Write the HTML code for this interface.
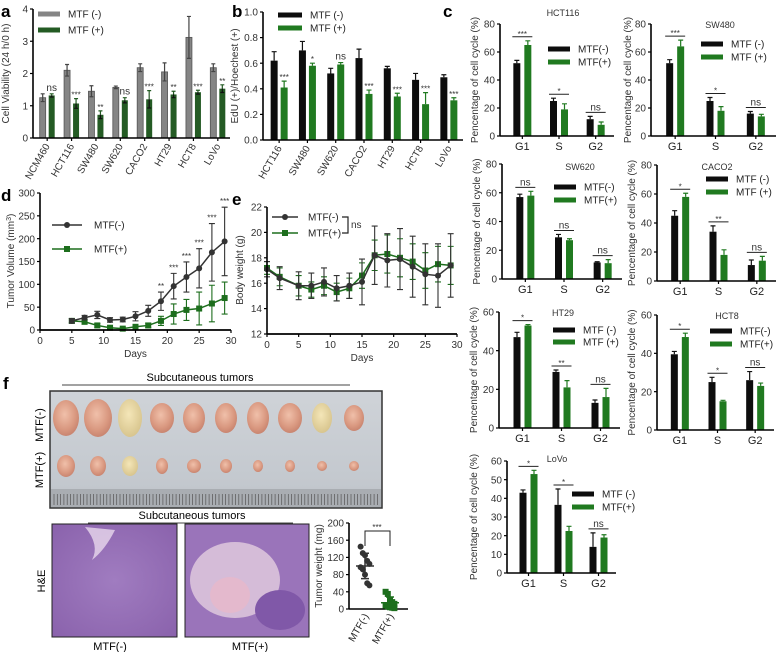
<!DOCTYPE html>
<html><head><meta charset="utf-8"><style>
html,body{margin:0;padding:0;background:#fff;}
svg{display:block;font-family:"Liberation Sans",Arial,sans-serif;}
</style></head><body>
<svg id="fig" width="778" height="652" viewBox="0 0 778 652" xmlns="http://www.w3.org/2000/svg">
<defs>
<linearGradient id="photoBg" x1="0" y1="0" x2="0" y2="1"><stop offset="0" stop-color="#cfd3d8"/><stop offset="0.8" stop-color="#c3c8ce"/><stop offset="1" stop-color="#b9bdc2"/></linearGradient>
<radialGradient id="tumorPink" cx="0.45" cy="0.4" r="0.6"><stop offset="0" stop-color="#f0c0aa"/><stop offset="0.7" stop-color="#d99880"/><stop offset="1" stop-color="#c98570"/></radialGradient>
<radialGradient id="tumorYellow" cx="0.45" cy="0.4" r="0.6"><stop offset="0" stop-color="#f4e6b8"/><stop offset="1" stop-color="#d8c58e"/></radialGradient>
<radialGradient id="heA" cx="0.5" cy="0.5" r="0.7"><stop offset="0" stop-color="#a07cc0"/><stop offset="1" stop-color="#8a62ac"/></radialGradient>
</defs>
<g font-weight="bold" font-size="17">
<text x="1" y="17">a</text>
<text x="232" y="17">b</text>
<text x="443" y="17">c</text>
<text x="1" y="201">d</text>
<text x="232" y="205">e</text>
<text x="3" y="389">f</text>
</g>
<g id="photo"></g>
<g font-size="11">
<text x="200" y="381" text-anchor="middle">Subcutaneous tumors</text>
<line x1="62" y1="385" x2="350" y2="385" stroke="#444" stroke-width="1"/>
<text transform="translate(43,425) rotate(-90)" text-anchor="middle">MTF(-)</text>
<text transform="translate(43,470) rotate(-90)" text-anchor="middle">MTF(+)</text>
<text x="192" y="519" text-anchor="middle">Subcutaneous tumors</text>
<line x1="88" y1="523" x2="293" y2="523" stroke="#444" stroke-width="1"/>
<text transform="translate(45,581) rotate(-90)" text-anchor="middle">H&amp;E</text>
<text x="110" y="650" text-anchor="middle">MTF(-)</text>
<text x="250" y="650" text-anchor="middle">MTF(+)</text>
</g>
<g id="he"></g>
</svg>
<script>
// ---------- Panel a data ----------
const aCats=["NCM460","HCT116","SW480","SW620","CACO2","HT29","HCT8","LoVo"];
const aNeg=[1.25,2.1,1.45,1.57,2.18,2.05,3.12,2.18];
const aNegErr=[0.12,0.18,0.17,0.04,0.12,0.28,0.65,0.12];
const aPos=[1.32,1.07,0.72,1.17,1.2,1.35,1.42,1.53];
const aPosErr=[0.05,0.15,0.12,0.08,0.27,0.1,0.06,0.12];
const aSig=["ns","***","**","ns","***","**","***","**"];
const aTicks=[0,1,2,3,4];
// ---------- Panel b data ----------
const bCats=["HCT116","SW480","SW620","CACO2","HT29","HCT8","LoVo"];
const bNeg=[0.62,0.70,0.52,0.64,0.56,0.47,0.49];
const bNegErr=[0.07,0.07,0.04,0.07,0.015,0.05,0.02];
const bPos=[0.41,0.58,0.59,0.36,0.34,0.28,0.31];
const bPosErr=[0.05,0.02,0.015,0.03,0.025,0.09,0.02];
const bSig=["***","*","ns","***","***","***","***"];
const bTicks=[0,0.2,0.4,0.6,0.8,1.0];
// ---------- Panel c data ----------
const phases=["G1","S","G2"];
const hct116Neg=[52,25,12], hct116NegErr=[2,2,2], hct116Pos=[65,19,8], hct116PosErr=[3,4,2], hct116Sig=["***","*","ns"];
const sw480Neg=[52,25,16], sw480NegErr=[2.5,2.5,1.5], sw480Pos=[64,18,14], sw480PosErr=[4.5,3,1.5], sw480Sig=["***","*","ns"];
const sw620Neg=[57,29,11.5], sw620NegErr=[2,2,0.5], sw620Pos=[58,27,11], sw620PosErr=[3,1,2.5], sw620Sig=["ns","ns","ns"];
const caco2Neg=[45,34,11], caco2NegErr=[3.5,4,3.5], caco2Pos=[58,18,14], caco2PosErr=[2.5,3.5,3], caco2Sig=["*","**","ns"];
const ht29Neg=[47,29,13], ht29NegErr=[2.5,1,1.5], ht29Pos=[53,21,16], ht29PosErr=[0.5,3.5,4.5], ht29Sig=["*","**","ns"];
const hct8Neg=[39.5,25,26], hct8NegErr=[1.5,2.5,4.5], hct8Pos=[48.5,15,23], hct8PosErr=[2,0.5,1.5], hct8Sig=["*","*","ns"];
const lovoNeg=[43,36.5,14], lovoNegErr=[1.5,8.5,7.5], lovoPos=[53,22.5,19], lovoPosErr=[2,2.5,1.5], lovoSig=["*","*","ns"];
const cTicks80=[0,20,40,60,80], cTicks60=[0,20,40,60], cTicksLovo=[0,10,20,30,40,50,60];
// ---------- Panel d data ----------
const dDays=[5,7,9,11,13,15,17,19,21,23,25,27,29];
const dNeg=[20,27,33,22,23,30,42,63,96,116,135,170,194];
const dNegErr=[5,5,8,5,5,10,12,20,28,33,43,63,75];
const dPos=[20,18,10,5,3,7,10,20,35,44,47,58,70];
const dPosErr=[4,5,4,3,2,4,5,10,22,23,36,40,35];
const dSig=["","","","","","","","**","***","***","***","***","***"];
const dXTicks=[0,5,10,15,20,25,30];
const dYTicks=[0,50,100,150,200,250,300];
// ---------- Panel e data ----------
const eDays=[0,2,5,7,9,11,13,15,17,19,21,23,25,27,29];
const eNeg=[17.1,16.4,15.8,15.8,16.1,15.6,15.8,16.1,18.2,17.8,17.9,17.3,16.7,16.6,17.4];
const eNegErr=[0.6,0.9,1.1,1.0,1.1,1.0,1.0,1.8,2.3,2.1,2.4,2.4,2.4,2.5,2.5];
const ePos=[17.2,16.5,15.8,15.5,15.8,15.3,15.6,16.6,18.2,18.3,18.0,17.7,17.0,17.5,17.4];
const ePosErr=[0.5,0.7,0.8,0.6,0.7,0.7,0.8,1.0,1.2,1.5,1.5,1.4,1.4,1.4,1.5];
const eXTicks=[0,5,10,15,20,25,30];
const eYTicks=[12,14,16,18,20,22];
// ---------- Panel f data ----------
const fNeg=[145,130,125,112,105,97,92,80,60,55];
const fPos=[40,35,20,16,12,8,6,4,3,2];
const fTicks=[0,40,80,120,160,200];
const fGroups=["MTF(-)","MTF(+)"];

const NS='http://www.w3.org/2000/svg';
const svg=document.getElementById('fig');
function mk(tag,attrs,parent){const e=document.createElementNS(NS,tag);for(const k in attrs)e.setAttribute(k,attrs[k]);(parent||svg).appendChild(e);return e;}
function tx(parent,x,y,s,attrs){const e=mk('text',Object.assign({x:x,y:y},attrs||{}),parent);e.textContent=s;return e;}
function grp(name){const g=mk('g',{});


return g;}

function yAxis(g,ax,yf,ticks,fs,fmt){
  const top=yf(ticks[ticks.length-1]),bot=yf(ticks[0]);
  const l=mk('line',{x1:ax,y1:top,x2:ax,y2:bot,stroke:'#000','stroke-width':1.6},g);
  
  
  ticks.forEach(t=>{
    const tk=mk('line',{x1:ax-3,y1:yf(t),x2:ax,y2:yf(t),stroke:'#000','stroke-width':1.2},g);
    
    
    const lb=tx(g,ax-5,yf(t)+fs*0.36,fmt?fmt(t):String(t),{'font-size':fs,'text-anchor':'end',fill:'#333'});
    
    
  });
}
function yTitle(g,x,y,s,fs){
  const t=tx(g,0,0,s,{transform:'translate('+x+','+y+') rotate(-90)','text-anchor':'middle','font-size':fs,fill:'#333'});
  
  
}
function errBar(g,x,yv,ye,w,col){
  const l=mk('path',{d:'M'+x+','+yv+'V'+ye+'M'+(x-w)+','+ye+'H'+(x+w),stroke:col,'stroke-width':1.2,fill:'none'},g);
  
  
}
function legendBar(g,x,y,col,label,fs,w,h){
  const r=mk('rect',{x:x,y:y-h/2,width:w,height:h,fill:col},g);
  
  
  const t=tx(g,x+w+8,y+fs*0.36,label,{'font-size':fs,fill:'#222'});
  
  
}

function barChart(name,o,cats,neg,negErr,pos,posErr,sig){
  const g=grp(name);
  const vmax=o.ticks[o.ticks.length-1], vmin=o.ticks[0];
  const yf=v=>o.yb-(v-vmin)/(vmax-vmin)*(o.yb-o.yt);
  const gw=(o.xEnd-o.ax-o.pad)/cats.length;
  const cx=i=>o.ax+o.pad+gw*(i+0.5);
  cats.forEach((c,i)=>{
    const xn=cx(i)-o.gap/2-o.bw, xp=cx(i)+o.gap/2;
    const rn=mk('rect',{x:xn,y:yf(neg[i]),width:o.bw,height:yf(vmin)-yf(neg[i]),fill:o.nc,stroke:o.ns||'none','stroke-width':0.8},g);
    
    
    errBar(g,xn+o.bw/2,yf(neg[i]),yf(neg[i]+negErr[i]),o.bw/2-1,o.ec||'#111');
    if(o.errDown) errBar(g,xn+o.bw/2,yf(neg[i]),yf(neg[i]-negErr[i]),o.bw/2-1,o.ec||'#111');
    const rp=mk('rect',{x:xp,y:yf(pos[i]),width:o.bw,height:yf(vmin)-yf(pos[i]),fill:o.pc},g);
    
    
    errBar(g,xp+o.bw/2,yf(pos[i]),yf(pos[i]+posErr[i]),o.bw/2-1,o.pc);
    if(o.errDown) errBar(g,xp+o.bw/2,yf(pos[i]),yf(pos[i]-posErr[i]),o.bw/2-1,'#111');
    if(o.sigLine){
      const top=Math.min(yf(neg[i]+negErr[i]),yf(pos[i]+posErr[i]))-4;
      const sl=mk('line',{x1:xn-1,y1:top,x2:xp+o.bw+1,y2:top,stroke:'#222','stroke-width':1},g);
      
      
      const st=tx(g,cx(i),top-(sig[i]==='ns'?2:0),sig[i],{'font-size':sig[i]==='ns'?10:8,'text-anchor':'middle',fill:'#333'});
      
      
    } else {
      const st=tx(g,xp+o.bw/2,yf(pos[i]+posErr[i])-(sig[i]==='ns'?3:1),sig[i],{'font-size':sig[i]==='ns'?10:8,'text-anchor':'middle',fill:'#333'});
      
      
    }
    if(o.rot){
      const lb=tx(g,0,0,c,{transform:'translate('+(cx(i)+3)+','+(o.yb+8)+') rotate(-60)','text-anchor':'end','font-size':o.fs,fill:'#333'});
      
      
    } else {
      const lb=tx(g,cx(i),o.yb+14,c,{'text-anchor':'middle','font-size':o.fs+1,fill:'#222'});
      
      
    }
  });
  const xa=mk('line',{x1:o.ax,y1:o.yb,x2:o.xEnd,y2:o.yb,stroke:'#000','stroke-width':1.6},g);
  
  
  cats.forEach((c,i)=>{
    const t=mk('line',{x1:cx(i),y1:o.yb,x2:cx(i),y2:o.yb+3,stroke:'#000','stroke-width':1.2},g);
    
    
  });
  yAxis(g,o.ax,yf,o.ticks,o.fs,o.fmt);
  yTitle(g,o.titleX,(o.yt+o.yb)/2,o.ytitle,o.tfs||10);
  if(o.title){const t=tx(g,o.titleCx,o.titleY,o.title,{'font-size':9,'text-anchor':'middle',fill:'#333'});
    
    }
  legendBar(g,o.lx,o.ly,o.nc,o.l1,o.lfs||10,o.lw||20,o.lh||5);
  legendBar(g,o.lx,o.ly+o.ldy,o.pc,o.l2,o.lfs||10,o.lw||20,o.lh||5);
  return g;
}

// Panel a
barChart('panel-a-cell-viability',{ax:33,yt:9,yb:138,xEnd:230,pad:2,ticks:aTicks,bw:6,gap:3,nc:'#858585',ns:'#555',pc:'#245b24',ec:'#444',errDown:true,
 rot:true,fs:10,titleX:9,ytitle:'Cell Viability (24 h/0 h)',lx:38,ly:14,ldy:16,l1:'MTF (-)',l2:'MTF (+)',lw:22,lh:5,lfs:10},aCats,aNeg,aNegErr,aPos,aPosErr,aSig);
// Panel b
barChart('panel-b-edu',{ax:263,yt:12,yb:140,xEnd:463,pad:2,ticks:bTicks,bw:7,gap:3,nc:'#0d0d0d',pc:'#207a20',
 rot:true,fs:10,fmt:t=>t.toFixed(1),titleX:238,ytitle:'EdU (+)/Hoechest (+)',lx:278,ly:15,ldy:13,l1:'MTF (-)',l2:'MTF (+)',lw:24,lh:5,lfs:10},bCats,bNeg,bNegErr,bPos,bPosErr,bSig);
// Panel c
const cBase={pad:4,bw:7,gap:4,nc:'#0d0d0d',pc:'#207a20',sigLine:true,fs:10,tfs:10,lw:22,lh:5,lfs:10,ldy:13};
barChart('panel-c-hct116',Object.assign({},cBase,{ax:500,yt:24,yb:136,xEnd:614,ticks:cTicks80,titleX:478,ytitle:'Pencentage of cell cycle (%)',title:'HCT116',titleCx:563,titleY:16,lx:548,ly:49,l1:'MTF(-)',l2:'MTF(+)'}),phases,hct116Neg,hct116NegErr,hct116Pos,hct116PosErr,hct116Sig);
barChart('panel-c-sw480',Object.assign({},cBase,{ax:651,yt:24,yb:136,xEnd:776,ticks:cTicks80,titleX:631,ytitle:'Pencentage of cell cycle (%)',title:'SW480',titleCx:720,titleY:28,lx:701,ly:44,l1:'MTF (-)',l2:'MTF (+)'}),phases,sw480Neg,sw480NegErr,sw480Pos,sw480PosErr,sw480Sig);
barChart('panel-c-sw620',Object.assign({},cBase,{ax:502,yt:164,yb:279,xEnd:622,ticks:cTicks80,titleX:480,ytitle:'Pencentage of cell cycle (%)',title:'SW620',titleCx:580,titleY:170,lx:554,ly:187,l1:'MTF(-)',l2:'MTF(+)'}),phases,sw620Neg,sw620NegErr,sw620Pos,sw620PosErr,sw620Sig);
barChart('panel-c-caco2',Object.assign({},cBase,{ax:657,yt:165,yb:281,xEnd:776,ticks:cTicks80,titleX:635,ytitle:'Pencentage of cell cycle (%)',title:'CACO2',titleCx:717,titleY:170,lx:706,ly:179,l1:'MTF (-)',l2:'MTF (+)'}),phases,caco2Neg,caco2NegErr,caco2Pos,caco2PosErr,caco2Sig);
barChart('panel-c-ht29',Object.assign({},cBase,{ax:499,yt:312,yb:428,xEnd:620,ticks:cTicks60,titleX:477,ytitle:'Pencentage of cell cycle (%)',title:'HT29',titleCx:563,titleY:316,lx:553,ly:330,ldy:12,l1:'MTF (-)',l2:'MTF (+)'}),phases,ht29Neg,ht29NegErr,ht29Pos,ht29PosErr,ht29Sig);
barChart('panel-c-hct8',Object.assign({},cBase,{ax:657,yt:315,yb:430,xEnd:774,ticks:cTicks60,titleX:635,ytitle:'Pencentage of cell cycle (%)',title:'HCT8',titleCx:727,titleY:319,lx:710,ly:331,l1:'MTF(-)',l2:'MTF(+)'}),phases,hct8Neg,hct8NegErr,hct8Pos,hct8PosErr,hct8Sig);
barChart('panel-c-lovo',Object.assign({},cBase,{ax:507,yt:461,yb:573,xEnd:616,ticks:cTicksLovo,titleX:477,ytitle:'Pencentage of cell cycle (%)',title:'LoVo',titleCx:557,titleY:462,lx:572,ly:494,l1:'MTF (-)',l2:'MTF(+)'}),phases,lovoNeg,lovoNegErr,lovoPos,lovoPosErr,lovoSig);

// Line charts
function lineChart(name,o,days,neg,negErr,pos,posErr,sig){
  const g=grp(name);
  const xmin=o.xt[0],xmax=o.xt[o.xt.length-1],ymin=o.yt[0],ymax=o.yt[o.yt.length-1];
  const xf=v=>o.x0+(v-xmin)/(xmax-xmin)*(o.x1-o.x0);
  const yf=v=>o.yb-(v-ymin)/(ymax-ymin)*(o.yb-o.ytop);
  const series=[[neg,negErr,'#333','circle'],[pos,posErr,'#1d6e1d','square']];
  series.slice().reverse().forEach(([vals,err,col,sh])=>{
    vals.forEach((v,i)=>{
      const lo=Math.max(ymin,v-err[i]);
      const e=mk('path',{d:'M'+xf(days[i])+','+yf(lo)+'V'+yf(v+err[i])+'M'+(xf(days[i])-3)+','+yf(v+err[i])+'h6M'+(xf(days[i])-3)+','+yf(lo)+'h6',stroke:col,'stroke-width':1.1,fill:'none'},g);
      
      
    });
    const p=mk('polyline',{points:vals.map((v,i)=>xf(days[i])+','+yf(v)).join(' '),fill:'none',stroke:col,'stroke-width':1.5},g);
    
    
    vals.forEach((v,i)=>{
      let m;
      if(sh==='circle') m=mk('circle',{cx:xf(days[i]),cy:yf(v),r:3,fill:col},g);
      else m=mk('rect',{x:xf(days[i])-3,y:yf(v)-3,width:6,height:6,fill:col},g);
      
      
    });
  });
  if(sig){sig.forEach((s,i)=>{if(!s)return;
    const t=tx(g,xf(days[i]),yf(neg[i]+negErr[i])-3,s,{'font-size':8,'text-anchor':'middle',fill:'#333'});
    
    });}
  const xa=mk('line',{x1:o.x0,y1:o.yb,x2:o.x1,y2:o.yb,stroke:'#000','stroke-width':1.8},g);
  
  
  o.xt.forEach(t=>{
    const k=mk('line',{x1:xf(t),y1:o.yb,x2:xf(t),y2:o.yb+3,stroke:'#000','stroke-width':1.2},g);
    
    
    const l=tx(g,xf(t),o.yb+14,String(t),{'font-size':10,'text-anchor':'middle',fill:'#333'});
    
    
  });
  const xt=tx(g,(o.x0+o.x1)/2,o.yb+27,'Days',{'font-size':10,'text-anchor':'middle',fill:'#333'});
  
  
  yAxis(g,o.x0,yf,o.yt,10);
  return g;
}
const gd=lineChart('panel-d-tumor-volume',{x0:40,x1:231,ytop:193,yb:330,xt:dXTicks,yt:dYTicks},dDays,dNeg,dNegErr,dPos,dPosErr,dSig);
const dTitle=tx(gd,0,0,'Tumor Volume (mm',{transform:'translate(14,261) rotate(-90)','text-anchor':'middle','font-size':10,fill:'#333'});


const dSup=mk('tspan',{dy:-3,'font-size':7},dTitle);dSup.textContent='3';
const dClose=mk('tspan',{dy:3},dTitle);dClose.textContent=')';
const ge=lineChart('panel-e-body-weight',{x0:267,x1:457,ytop:207,yb:334,xt:eXTicks,yt:eYTicks},eDays,eNeg,eNegErr,ePos,ePosErr,null);
yTitle(ge,243,270,'Body weight (g)',10);

// line legends
function lineLegend(g,x,y,col,sq,label,len,tgap){
  const l=mk('line',{x1:x,y1:y,x2:x+len,y2:y,stroke:col,'stroke-width':1.5},g);
  
  
  let m;
  if(sq) m=mk('rect',{x:x+len/2-3,y:y-3,width:6,height:6,fill:col},g);
  else m=mk('circle',{cx:x+len/2,cy:y,r:3,fill:col},g);
  
  
  const t=tx(g,x+len+tgap,y+3.6,label,{'font-size':10,fill:'#222'});
  
  
}
const dLeg=grp('panel-d-legend');
lineLegend(dLeg,52,225,'#333',false,'MTF(-)',30,12);
lineLegend(dLeg,52,249,'#1d6e1d',true,'MTF(+)',30,12);
const eLeg=grp('panel-e-legend');
lineLegend(eLeg,272,217,'#333',false,'MTF(-)',26,10);
lineLegend(eLeg,272,233,'#1d6e1d',true,'MTF(+)',26,10);
const br=mk('path',{d:'M342,217H348V233H342',stroke:'#222',fill:'none','stroke-width':1.2},eLeg);


const brt=tx(eLeg,351,228,'ns',{'font-size':10,fill:'#333'});



// Photo
const ph=document.getElementById('photo');
const bgR=mk('rect',{x:50,y:391,width:332,height:117,fill:'url(#photoBg)',stroke:'#333','stroke-width':1.5},ph);


const rul=mk('rect',{x:51,y:489,width:330,height:18,fill:'#a9adb2'},ph);


let rd='';for(let x=54;x<380;x+=3.3){rd+='M'+x.toFixed(1)+',494V505';}
const rt=mk('path',{d:rd,stroke:'#555','stroke-width':0.7},ph);


const tumorW=[13,14,12,12,11,11,11,12,10,10], tumorH=[18,19,19,15,15,15,16,15,15,13];
const tumorC=['tumorPink','tumorPink','tumorYellow','tumorPink','tumorPink','tumorPink','tumorPink','tumorPink','tumorYellow','tumorPink'];
const smallW=[9,8,8,6,7,6,5,5,5,5], smallH=[11,10,10,8,7,7,6,6,5,5];
for(let i=0;i<10;i++){
  const cxp=66+i*32;
  const t1=mk('ellipse',{cx:cxp,cy:418,rx:tumorW[i],ry:tumorH[i],fill:'url(#'+tumorC[i]+')'},ph);
  
  
  const t2=mk('ellipse',{cx:cxp,cy:466,rx:smallW[i],ry:smallH[i],fill:'url(#'+(i===2?'tumorYellow':'tumorPink')+')'},ph);
  
  
}
// H&E
const he=document.getElementById('he');
const h1=mk('rect',{x:52,y:524,width:125,height:113,fill:'url(#heA)',stroke:'#222','stroke-width':1},he);


const h1p=mk('path',{d:'M85,527 Q100,545 92,560 Q105,550 115,530 Z',fill:'#e8d8ec',opacity:0.8},he);


const h2=mk('rect',{x:185,y:524,width:124,height:113,fill:'#9a74ba',stroke:'#222','stroke-width':1},he);


const h2p=mk('ellipse',{cx:235,cy:580,rx:45,ry:38,fill:'#dcc4dc',opacity:0.9},he);


const h2q=mk('ellipse',{cx:230,cy:595,rx:20,ry:18,fill:'#e6b8cc',opacity:0.9},he);


const h2r=mk('ellipse',{cx:280,cy:610,rx:25,ry:20,fill:'#8058a8'},he);



// Panel f scatter
const gf=grp('panel-f-tumor-weight');
const fyf=v=>609-v/200*86;
const fxf=i=>365+i*25;
yAxis(gf,349,fyf,fTicks,10);
yTitle(gf,322,566,'Tumor weight (mg)',10);
const fxa=mk('line',{x1:349,y1:609,x2:408,y2:609,stroke:'#000','stroke-width':1.6},gf);


[fNeg,fPos].forEach((arr,gi)=>{
  const col=gi===0?'#333':'#1d6e1d';
  arr.forEach((v,j)=>{
    const jx=fxf(gi)+((j%5)-2)*2.2;
    let m;
    if(gi===0) m=mk('circle',{cx:jx,cy:fyf(v),r:3,fill:col},gf);
    else m=mk('rect',{x:jx-3,y:fyf(v)-3,width:6,height:6,fill:col},gf);
    
    
  });
  const mean=arr.reduce((s,v)=>s+v,0)/arr.length;
  const sd=Math.sqrt(arr.reduce((s,v)=>s+(v-mean)*(v-mean),0)/(arr.length-1));
  const ml=mk('path',{d:'M'+(fxf(gi)-9)+','+fyf(mean)+'h18M'+fxf(gi)+','+fyf(Math.max(0,mean-sd))+'V'+fyf(mean+sd)+'M'+(fxf(gi)-4)+','+fyf(mean+sd)+'h8M'+(fxf(gi)-4)+','+fyf(Math.max(0,mean-sd))+'h8',stroke:col,'stroke-width':1.5,fill:'none'},gf);
  
  
  const lb=tx(gf,0,0,fGroups[gi],{transform:'translate('+(fxf(gi)+4)+',616) rotate(-60)','text-anchor':'end','font-size':10,fill:'#222'});
  
  
});
const fbr=mk('path',{d:'M365,546V531H390V546',stroke:'#222',fill:'none','stroke-width':1},gf);


const fst=tx(gf,377,530,'***',{'font-size':8,'text-anchor':'middle',fill:'#333'});


</script>
</body></html>
